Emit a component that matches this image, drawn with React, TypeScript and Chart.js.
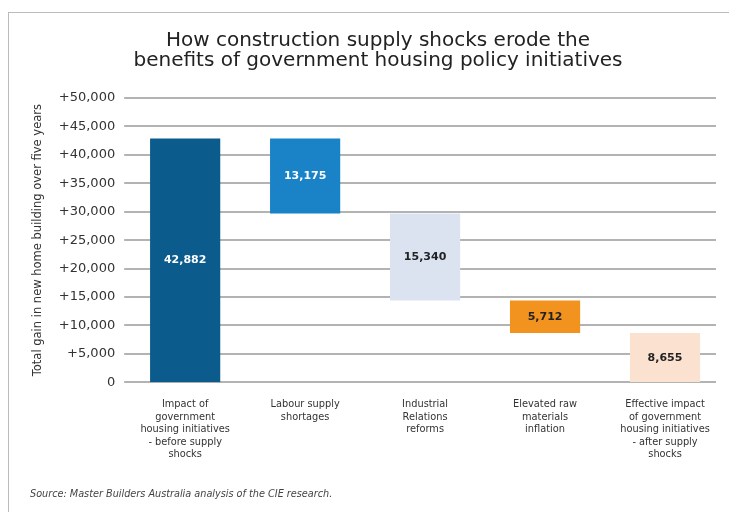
import React, { useEffect, useRef } from "react";
import { Chart, registerables } from "chart.js";

Chart.register(...registerables);

const categories: string[][] = [
  ["Impact of", "government", "housing initiatives", "- before supply", "shocks"],
  ["Labour supply", "shortages"],
  ["Industrial", "Relations", "reforms"],
  ["Elevated raw", "materials", "inflation"],
  ["Effective impact", "of government", "housing initiatives", "- after supply", "shocks"],
];
const startValue = 42882;
const changes = [-13175, -15340, -5712];
const finalValue = 8655;
const barColors = ["#0b5b8c", "#1a82c6", "#dbe3f1", "#f2931f", "#fae1d0"];
const labelColors = ["#ffffff", "#ffffff", "#222222", "#222222", "#222222"];
const yTicks = [0, 5000, 10000, 15000, 20000, 25000, 30000, 35000, 40000, 45000, 50000];

const FONT = "'DejaVu Sans', sans-serif";

export default function App() {
  const ref = useRef<HTMLCanvasElement | null>(null);

  useEffect(() => {
    if (!ref.current) return;
    const ranges: [number, number][] = [[0, startValue]];
    const labels: number[] = [startValue];
    let level = startValue;
    for (const c of changes) {
      const next = level + c;
      ranges.push([next, level]);
      labels.push(Math.abs(c));
      level = next;
    }
    ranges.push([0, finalValue]);
    labels.push(finalValue);

    const gridLines = {
      id: "gridLines",
      beforeDatasetsDraw(chart: any) {
        const ctx = chart.ctx;
        const y = chart.scales.y;
        const area = chart.chartArea;
        ctx.save();
        ctx.strokeStyle = "#b3b3b3";
        ctx.lineWidth = 2;
        yTicks.forEach((v) => {
          const py = Math.round(y.getPixelForValue(v));
          ctx.beginPath();
          ctx.moveTo(area.left - 1, py);
          ctx.lineTo(area.right - 9, py);
          ctx.stroke();
        });
        ctx.restore();
      },
    };

    const valueLabels = {
      id: "valueLabels",
      afterDatasetsDraw(chart: any) {
        const ctx = chart.ctx;
        const meta = chart.getDatasetMeta(0);
        ctx.save();
        ctx.font = `bold 11px ${FONT}`;
        ctx.textAlign = "center";
        ctx.textBaseline = "middle";
        meta.data.forEach((bar: any, i: number) => {
          const p = bar.getProps(["x", "y", "base"], true);
          ctx.fillStyle = labelColors[i];
          ctx.fillText(labels[i].toLocaleString("en-US"), p.x, (p.y + p.base) / 2);
        });
        ctx.restore();
      },
    };

    const chart = new Chart(ref.current, {
      type: "bar",
      data: {
        labels: categories,
        datasets: [
          {
            data: ranges as any,
            backgroundColor: barColors,
            borderWidth: 0,
            barPercentage: 0.585,
            categoryPercentage: 1,
          },
        ],
      },
      options: {
        animation: false,
        responsive: false,
        devicePixelRatio: 1,
        layout: { padding: { left: 31, right: 4, top: 31, bottom: 43 } },
        plugins: {
          legend: { display: false },
          tooltip: { enabled: false },
          title: {
            display: true,
            text: [
              "How construction supply shocks erode the",
              "benefits of government housing policy initiatives",
            ],
            color: "#222",
            font: { family: FONT, size: 20, weight: "normal", lineHeight: 1.0 },
            padding: { top: 0, bottom: 27 },
          },
        },
        scales: {
          x: {
            grid: { display: false },
            border: { display: false },
            ticks: {
              color: "#333",
              font: { family: FONT, size: 9.8, lineHeight: 1.28 },
              maxRotation: 0,
              autoSkip: false,
              padding: 8,
            },
          },
          y: {
            min: 0,
            max: 50000,
            afterBuildTicks(scale: any) {
              scale.ticks = yTicks.map((v) => ({ value: v }));
            },
            grid: { display: false, drawTicks: false },
            border: { display: false },
            ticks: {
              color: "#333",
              font: { family: FONT, size: 13 },
              padding: 10,
              callback: (v: any) => (v === 0 ? "0" : "+" + Number(v).toLocaleString("en-US")),
            },
            title: {
              display: true,
              text: "Total gain in new home building over five years",
              color: "#333",
              font: { family: FONT, size: 11.5 },
              padding: { top: 0, bottom: 4 },
            },
          },
        },
      },
      plugins: [gridLines, valueLabels],
    });
    return () => chart.destroy();
  }, []);

  return (
    <div style={{ position: "absolute", left: 0, top: 0, width: 729, height: 512, background: "#fff", overflow: "hidden" }}>
      <div
        style={{
          position: "absolute",
          left: 8,
          top: 12,
          width: 740,
          height: 520,
          border: "1px solid #bbb",
          boxSizing: "border-box",
        }}
      />
      <canvas ref={ref} width={729} height={512} style={{ position: "absolute", left: 0, top: 0 }} />
      <div
        style={{
          position: "absolute",
          left: 30,
          top: 488,
          fontFamily: FONT,
          fontStyle: "italic",
          fontSize: 9.7,
          color: "#444",
        }}
      >
        Source: Master Builders Australia analysis of the CIE research.
      </div>
    </div>
  );
}
